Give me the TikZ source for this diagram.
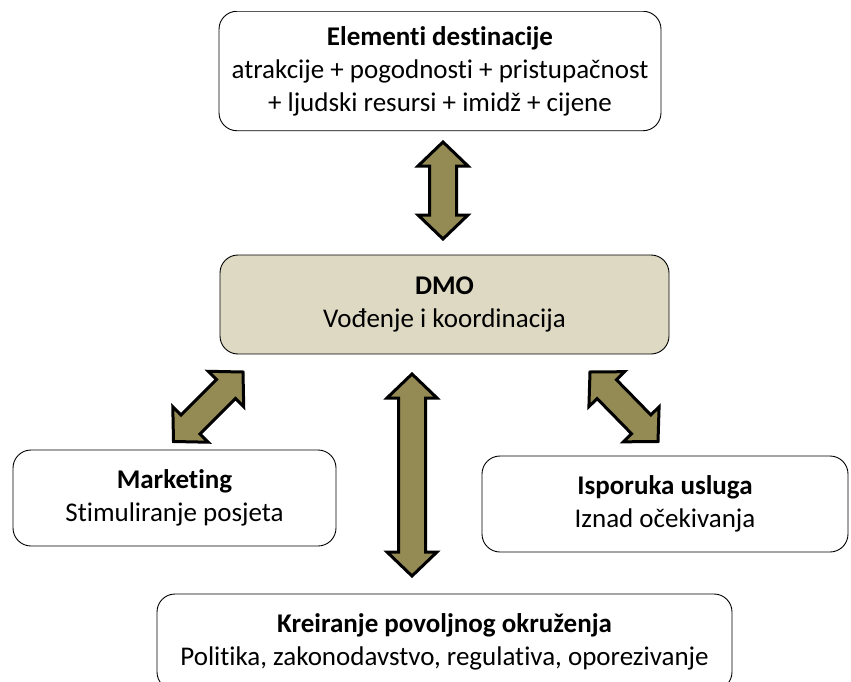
\documentclass[tikz,border=0pt]{standalone}
\usepackage{fontspec}
\setmainfont{Carlito}[Ligatures=NoCommon]
\usetikzlibrary{calc}
\definecolor{olivefill}{HTML}{948A54}
\definecolor{tanfill}{HTML}{DDD9C3}
\tikzset{
  box/.style={draw=black, line width=0.9pt, rounded corners=18pt, align=center,
    font=\fontsize{27}{33}\selectfont, inner sep=0pt},
  barrow/.style={draw=black, line width=3pt, fill=olivefill, line join=miter},
}
\newcommand\blockarrow[2]{%
  \draw[barrow] (#1)
    -- ($(#1)!24pt!(#2)!25pt!90:(#2)$)
    -- ($(#1)!24pt!(#2)!13.5pt!90:(#2)$)
    -- ($(#2)!24pt!(#1)!13.5pt!-90:(#1)$)
    -- ($(#2)!24pt!(#1)!25pt!-90:(#1)$)
    -- (#2)
    -- ($(#2)!24pt!(#1)!25pt!90:(#1)$)
    -- ($(#2)!24pt!(#1)!13.5pt!90:(#1)$)
    -- ($(#1)!24pt!(#2)!13.5pt!-90:(#2)$)
    -- ($(#1)!24pt!(#2)!25pt!-90:(#2)$)
    -- cycle;}
\begin{document}
\begin{tikzpicture}[x=1pt,y=-1pt]
  \useasboundingbox (0,0) rectangle (851,682);
  \clip (0,11.2) rectangle (851,682);
  % boxes
  \node[box, minimum width=442pt, minimum height=119.5pt] (elem) at (440,71)
    {\textbf{Elementi destinacije}\\atrakcije + pogodnosti + pristupačnost\\+ ljudski resursi + imidž + cijene};
  \node[box, fill=tanfill, minimum width=449pt, minimum height=99pt] (dmo) at (444.5,304.5)
    {\textbf{DMO}\\Vođenje i koordinacija};
  \node[box, minimum width=323pt, minimum height=96pt] (mark) at (174.5,498)
    {\textbf{Marketing}\\Stimuliranje posjeta};
  \node[box, minimum width=366pt, minimum height=96pt] (isp) at (665,504)
    {\textbf{Isporuka usluga}\\Iznad očekivanja};
  \node[box, minimum width=575pt, minimum height=96pt] (krei) at (444.5,642)
    {\textbf{Kreiranje povoljnog okruženja}\\Politika, zakonodavstvo, regulativa, oporezivanje};
  % arrow end points
  \coordinate (u1) at (443,142);
  \coordinate (u2) at (443,239);
  \coordinate (m1) at (412,374);
  \coordinate (m2) at (412,576);
  \coordinate (l1) at (243,372);
  \coordinate (l2) at (173.5,441.5);
  \coordinate (r1) at (590,372);
  \coordinate (r2) at (658,441.5);
  \blockarrow{u1}{u2}
  \blockarrow{m1}{m2}
  \blockarrow{l1}{l2}
  \blockarrow{r1}{r2}
\end{tikzpicture}
\end{document}
